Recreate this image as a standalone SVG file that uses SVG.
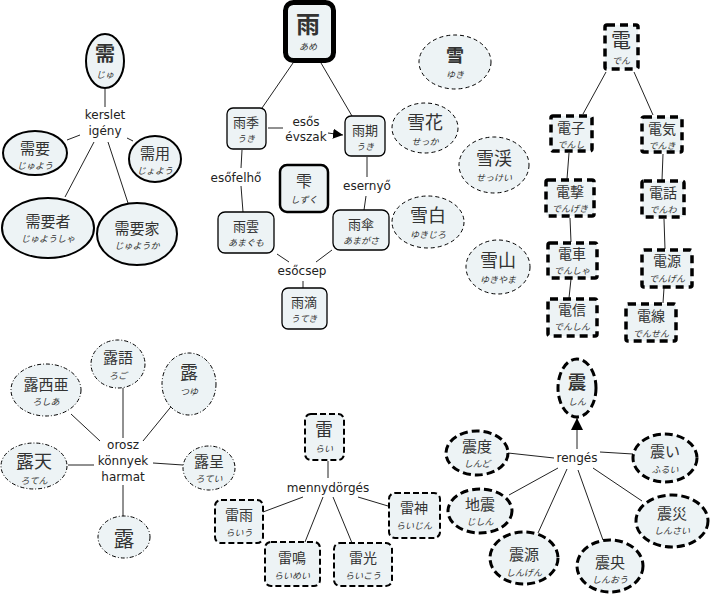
<svg xmlns="http://www.w3.org/2000/svg" width="710" height="596" viewBox="0 0 710 596">
<defs>
<style>
.n{fill:#edf3f5;stroke:#000}
.k{font-family:"Noto Sans CJK JP",sans-serif;fill:#333;text-anchor:middle;dominant-baseline:central}
.r{font-family:"Noto Sans CJK JP",sans-serif;fill:#333;text-anchor:middle;dominant-baseline:central;font-size:9px;font-style:italic}
.l{font-family:"DejaVu Sans",sans-serif;font-size:12px;fill:#222;text-anchor:middle;dominant-baseline:central}
.c line{stroke:#222;stroke-width:1}
.s1{stroke-width:2}
.s2{stroke-width:1.3}
.s3{stroke-width:1;stroke-dasharray:4 3}
.s4{stroke-width:3.5;stroke-dasharray:8 5}
.s5{stroke-width:1;stroke-dasharray:4 2 1 2}
.s6{stroke-width:2;stroke-dasharray:6 3}
.s7{stroke-width:3;stroke-dasharray:8 4}
</style>
<marker id="ah" viewBox="0 0 10 10" refX="10" refY="5" markerWidth="10" markerHeight="10" markerUnits="userSpaceOnUse" orient="auto">
<path d="M0,0L10,5L0,10z" fill="#000"/>
</marker>
<marker id="ah2" viewBox="0 0 10 10" refX="10" refY="5" markerWidth="12" markerHeight="12" markerUnits="userSpaceOnUse" orient="auto">
<path d="M0,0L10,5L0,10z" fill="#000"/>
</marker>
</defs>
<rect width="710" height="596" fill="#fff"/>
<g id="connectors" class="c">
<line x1="105" y1="89" x2="105" y2="107"/>
<line x1="67" y1="140" x2="80" y2="135"/>
<line x1="127" y1="138" x2="133" y2="141"/>
<line x1="94" y1="142" x2="65" y2="197"/>
<line x1="108" y1="142" x2="128" y2="203"/>
<line x1="293" y1="63" x2="262" y2="108"/>
<line x1="321" y1="63" x2="352" y2="116"/>
<line x1="268" y1="128" x2="283" y2="128"/>
<line x1="328" y1="133" x2="343" y2="135" marker-end="url(#ah)"/>
<line x1="242" y1="150" x2="241" y2="168"/>
<line x1="241" y1="186" x2="243" y2="212"/>
<line x1="367" y1="157" x2="367" y2="177"/>
<line x1="366" y1="196" x2="364" y2="210"/>
<line x1="277" y1="254" x2="289" y2="262"/>
<line x1="332" y1="250" x2="316" y2="262"/>
<line x1="303" y1="281" x2="303" y2="288"/>
<line x1="606" y1="72" x2="583" y2="114"/>
<line x1="634" y1="72" x2="653" y2="115"/>
<line x1="569" y1="153" x2="567" y2="179"/>
<line x1="663" y1="154" x2="662" y2="180"/>
<line x1="570" y1="218" x2="571" y2="242"/>
<line x1="571" y1="279" x2="569" y2="298"/>
<line x1="664" y1="219" x2="665" y2="249"/>
<line x1="664" y1="288" x2="663" y2="303"/>
<line x1="123" y1="388" x2="123" y2="438"/>
<line x1="71" y1="414" x2="100" y2="441"/>
<line x1="174" y1="403" x2="143" y2="441"/>
<line x1="68" y1="465" x2="94" y2="465"/>
<line x1="153" y1="463" x2="183" y2="465"/>
<line x1="123" y1="485" x2="123" y2="516"/>
<line x1="328" y1="461" x2="328" y2="478"/>
<line x1="303" y1="497" x2="263" y2="512"/>
<line x1="323" y1="497" x2="305" y2="542"/>
<line x1="333" y1="497" x2="352" y2="543"/>
<line x1="358" y1="497" x2="388" y2="506"/>
<line x1="577" y1="449" x2="577" y2="418" stroke-width="1.5" marker-end="url(#ah2)"/>
<line x1="508" y1="453" x2="554" y2="458"/>
<line x1="600" y1="452" x2="633" y2="454"/>
<line x1="558" y1="468" x2="509" y2="495"/>
<line x1="567" y1="469" x2="538" y2="533"/>
<line x1="578" y1="470" x2="603" y2="540"/>
<line x1="593" y1="468" x2="642" y2="501"/>
</g>
<g id="labels">
<text class="l" x="105" y="115">kerslet</text>
<text class="l" x="105" y="131">igény</text>
<text class="l" x="306" y="122">esős</text>
<text class="l" x="306" y="137">évszak</text>
<text class="l" x="236" y="178">esőfelhő</text>
<text class="l" x="367" y="186">esernyő</text>
<text class="l" x="302" y="271">esőcsep</text>
<text class="l" x="123" y="445">orosz</text>
<text class="l" x="123" y="461">könnyek</text>
<text class="l" x="123" y="477">harmat</text>
<text class="l" x="328" y="488">mennydörgés</text>
<text class="l" x="577" y="458">rengés</text>
</g>
<!-- 需 cluster -->
<g id="n-ju"><ellipse class="n s1" cx="105" cy="61" rx="19" ry="27"/><text class="k" x="105" y="52" font-size="20" font-weight="bold">需</text><text class="r" x="105" y="74">じゅ</text></g>
<g id="n-juyou"><ellipse class="n s1" cx="35" cy="153" rx="32" ry="22"/><text class="k" x="35" y="147" font-size="15">需要</text><text class="r" x="35" y="165">じゅよう</text></g>
<g id="n-joyou"><ellipse class="n s1" cx="155" cy="159" rx="26" ry="23"/><text class="k" x="155" y="152" font-size="15">需用</text><text class="r" x="155" y="170">じょよう</text></g>
<g id="n-juyousha"><ellipse class="n s1" cx="48" cy="228" rx="46" ry="30"/><text class="k" x="48" y="220" font-size="15">需要者</text><text class="r" x="48" y="238">じゅようしゃ</text></g>
<g id="n-juyouka"><ellipse class="n s1" cx="137" cy="234" rx="40" ry="31"/><text class="k" x="137" y="227" font-size="15">需要家</text><text class="r" x="137" y="245">じゅようか</text></g>
<!-- 雨 cluster -->
<g id="n-ame"><rect class="n" x="285.5" y="2.5" width="48" height="58" rx="8" stroke-width="5"/><text class="k" x="308" y="22" font-size="24" font-weight="bold">雨</text><text class="r" x="308" y="46" font-size="10" font-style="normal">あめ</text></g>
<g id="n-uki1"><rect class="n s2" x="227" y="108" width="39" height="41" rx="6"/><text class="k" x="246" y="121" font-size="13">雨季</text><text class="r" x="246" y="138">うき</text></g>
<g id="n-uki2"><rect class="n s2" x="345" y="116" width="40" height="40" rx="6"/><text class="k" x="365" y="129" font-size="13">雨期</text><text class="r" x="365" y="146">うき</text></g>
<g id="n-shizuku"><rect class="n" x="280" y="165" width="48" height="47" rx="7" stroke-width="2.5"/><text class="k" x="304" y="180" font-size="16">雫</text><text class="r" x="304" y="199">しずく</text></g>
<g id="n-amagumo"><rect class="n s2" x="218" y="212" width="56" height="41" rx="7"/><text class="k" x="246" y="225" font-size="13">雨雲</text><text class="r" x="246" y="242">あまぐも</text></g>
<g id="n-amagasa"><rect class="n s2" x="333" y="210" width="56" height="40" rx="7"/><text class="k" x="361" y="223" font-size="13">雨傘</text><text class="r" x="361" y="240">あまがさ</text></g>
<g id="n-uteki"><rect class="n s2" x="282" y="288" width="45" height="41" rx="6"/><text class="k" x="304" y="301" font-size="13">雨滴</text><text class="r" x="304" y="318">うてき</text></g>
<!-- 雪 cluster -->
<g id="n-yuki"><ellipse class="n s3" cx="455" cy="62" rx="36" ry="27"/><text class="k" x="455" y="54" font-size="18" font-weight="bold">雪</text><text class="r" x="455" y="74">ゆき</text></g>
<g id="n-sekka"><ellipse class="n s3" cx="425" cy="128" rx="33" ry="25"/><text class="k" x="425" y="121" font-size="18">雪花</text><text class="r" x="425" y="141">せっか</text></g>
<g id="n-sekkei"><ellipse class="n s3" cx="494" cy="165" rx="35" ry="28"/><text class="k" x="494" y="157" font-size="18">雪渓</text><text class="r" x="494" y="177">せっけい</text></g>
<g id="n-yukijiro"><ellipse class="n s3" cx="428" cy="222" rx="36" ry="26"/><text class="k" x="428" y="214" font-size="18">雪白</text><text class="r" x="428" y="234">ゆきじろ</text></g>
<g id="n-yukiyama"><ellipse class="n s3" cx="498" cy="267" rx="32" ry="27"/><text class="k" x="498" y="259" font-size="18">雪山</text><text class="r" x="498" y="279">ゆきやま</text></g>
<!-- 電 cluster -->
<g id="n-den"><rect class="n s4" x="605" y="25" width="33" height="44" rx="2" stroke-width="4.5"/><text class="k" x="621" y="39" font-size="20">電</text><text class="r" x="621" y="60">でん</text></g>
<g id="n-denshi"><rect class="n s4" x="551" y="116" width="41" height="35" rx="2"/><text class="k" x="571" y="127" font-size="14">電子</text><text class="r" x="571" y="144">でんし</text></g>
<g id="n-denki"><rect class="n s4" x="642" y="117" width="40" height="35" rx="2"/><text class="k" x="662" y="128" font-size="14">電気</text><text class="r" x="662" y="145">でんき</text></g>
<g id="n-dengeki"><rect class="n s4" x="546" y="180" width="48" height="36" rx="2"/><text class="k" x="570" y="191" font-size="14">電撃</text><text class="r" x="570" y="208">でんげき</text></g>
<g id="n-denwa"><rect class="n s4" x="642" y="181" width="42" height="36" rx="2"/><text class="k" x="663" y="192" font-size="14">電話</text><text class="r" x="663" y="209">でんわ</text></g>
<g id="n-densha"><rect class="n s4" x="548" y="243" width="49" height="35" rx="2"/><text class="k" x="572" y="253" font-size="14">電車</text><text class="r" x="572" y="270">でんしゃ</text></g>
<g id="n-dengen"><rect class="n s4" x="642" y="250" width="50" height="37" rx="2"/><text class="k" x="667" y="260" font-size="14">電源</text><text class="r" x="667" y="278">でんげん</text></g>
<g id="n-denshin"><rect class="n s4" x="548" y="299" width="49" height="37" rx="2"/><text class="k" x="572" y="309" font-size="14">電信</text><text class="r" x="572" y="326">でんしん</text></g>
<g id="n-densen"><rect class="n s4" x="626" y="304" width="50" height="37" rx="2"/><text class="k" x="651" y="315" font-size="14">電線</text><text class="r" x="651" y="333">でんせん</text></g>
<!-- 露 cluster -->
<g id="n-roshia"><ellipse class="n s5" cx="46" cy="390" rx="35" ry="26"/><text class="k" x="46" y="383" font-size="15">露西亜</text><text class="r" x="46" y="401">ろしあ</text></g>
<g id="n-rogo"><ellipse class="n s5" cx="118" cy="364" rx="27" ry="24"/><text class="k" x="118" y="356" font-size="15">露語</text><text class="r" x="118" y="375">ろご</text></g>
<g id="n-tsuyu"><ellipse class="n s5" cx="189" cy="384" rx="27" ry="31"/><text class="k" x="189" y="371" font-size="18">露</text><text class="r" x="189" y="391">つゆ</text></g>
<g id="n-roten"><ellipse class="n s5" cx="34" cy="466" rx="33" ry="23"/><text class="k" x="34" y="460" font-size="18">露天</text><text class="r" x="34" y="480">ろてん</text></g>
<g id="n-rotei"><ellipse class="n s5" cx="209" cy="468" rx="26" ry="22"/><text class="k" x="209" y="460" font-size="15">露呈</text><text class="r" x="209" y="478">ろてい</text></g>
<g id="n-ro"><ellipse class="n s5" cx="124" cy="537" rx="26" ry="21"/><text class="k" x="124" y="537" font-size="21">露</text></g>
<!-- 雷 cluster -->
<g id="n-rai"><rect class="n s6" x="305" y="414" width="39" height="46" rx="6" stroke-width="2.5"/><text class="k" x="324" y="428" font-size="18">雷</text><text class="r" x="324" y="448">らい</text></g>
<g id="n-raiu"><rect class="n s6" x="215" y="500" width="48" height="43" rx="6"/><text class="k" x="239" y="514" font-size="14">雷雨</text><text class="r" x="239" y="532">らいう</text></g>
<g id="n-raimei"><rect class="n s6" x="265" y="542" width="55" height="44" rx="6"/><text class="k" x="292" y="557" font-size="14">雷鳴</text><text class="r" x="292" y="575">らいめい</text></g>
<g id="n-raikou"><rect class="n s6" x="334" y="543" width="58" height="43" rx="6"/><text class="k" x="363" y="557" font-size="14">雷光</text><text class="r" x="363" y="575">らいこう</text></g>
<g id="n-raijin"><rect class="n s6" x="389" y="493" width="51" height="45" rx="6"/><text class="k" x="414" y="507" font-size="14">雷神</text><text class="r" x="414" y="525">らいじん</text></g>
<!-- 震 cluster -->
<g id="n-shin"><ellipse class="n s7" cx="577" cy="388" rx="19" ry="29" stroke-width="3.5"/><text class="k" x="577" y="381" font-size="18" font-weight="bold">震</text><text class="r" x="577" y="401">しん</text></g>
<g id="n-shindo"><ellipse class="n s7" cx="477" cy="453" rx="31" ry="22"/><text class="k" x="477" y="445" font-size="15">震度</text><text class="r" x="477" y="463">しんど</text></g>
<g id="n-furui"><ellipse class="n s7" cx="665" cy="458" rx="32" ry="24"/><text class="k" x="665" y="450" font-size="15">震い</text><text class="r" x="665" y="469">ふるい</text></g>
<g id="n-jishin"><ellipse class="n s7" cx="480" cy="511" rx="32" ry="22"/><text class="k" x="480" y="503" font-size="15">地震</text><text class="r" x="480" y="521">じしん</text></g>
<g id="n-shinsai"><ellipse class="n s7" cx="672" cy="521" rx="36" ry="26"/><text class="k" x="672" y="512" font-size="15">震災</text><text class="r" x="672" y="530">しんさい</text></g>
<g id="n-shingen"><ellipse class="n s7" cx="524" cy="558" rx="34" ry="26"/><text class="k" x="524" y="553" font-size="15">震源</text><text class="r" x="524" y="572">しんげん</text></g>
<g id="n-shinou"><ellipse class="n s7" cx="610" cy="566" rx="33" ry="26"/><text class="k" x="610" y="561" font-size="15">震央</text><text class="r" x="610" y="579">しんおう</text></g>
</svg>
